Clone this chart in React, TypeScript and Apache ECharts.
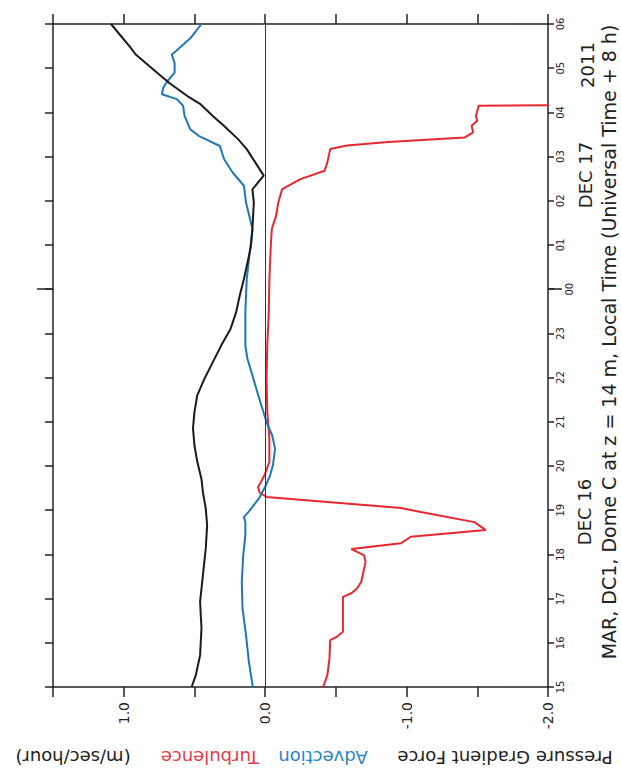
import React, { useEffect, useRef } from 'react';
import * as echarts from 'echarts';

const FONT = '"DejaVu Sans", "Liberation Sans", sans-serif';

// Time axis: local hours (15 = 15:00 Dec 16 ... 30 = 06:00 Dec 17)
const pgfTime = [15.0, 15.27, 15.72, 16.33, 16.93, 17.53, 18.13, 18.66, 19.04, 19.41, 19.7, 20.1, 20.47, 20.85, 21.22, 21.6, 21.97, 22.35, 22.73, 23.1, 23.48, 23.85, 24.23, 24.6, 24.98, 25.36, 25.96, 26.26, 26.57, 26.87, 27.17, 27.39, 27.69, 27.92, 28.18, 28.37, 28.67, 29.05, 29.31, 29.5, 30.0];
const pgfValue = [0.52, 0.49, 0.46, 0.45, 0.46, 0.44, 0.42, 0.41, 0.42, 0.44, 0.45, 0.48, 0.5, 0.51, 0.5, 0.48, 0.43, 0.37, 0.31, 0.245, 0.205, 0.18, 0.15, 0.125, 0.1, 0.09, 0.08, 0.09, 0.01, 0.07, 0.13, 0.19, 0.29, 0.37, 0.455, 0.55, 0.68, 0.82, 0.915, 0.96, 1.09];

const advTime = [15.0, 15.57, 16.17, 16.78, 17.38, 17.98, 18.43, 18.73, 18.85, 18.95, 19.26, 19.56, 19.79, 20.02, 20.39, 20.69, 20.99, 21.3, 21.67, 22.05, 22.42, 22.73, 23.48, 24.23, 24.8, 25.36, 25.96, 26.34, 26.64, 26.94, 27.24, 27.47, 27.62, 27.92, 28.15, 28.3, 28.41, 28.56, 28.71, 28.9, 29.12, 29.31, 29.39, 29.69, 30.0];
const advValue = [0.087, 0.115, 0.135, 0.16, 0.165, 0.155, 0.14, 0.14, 0.15, 0.12, 0.045, -0.005, -0.035, -0.055, -0.07, -0.05, -0.01, 0.02, 0.055, 0.09, 0.125, 0.14, 0.14, 0.13, 0.11, 0.09, 0.135, 0.15, 0.23, 0.29, 0.32, 0.47, 0.53, 0.57, 0.58, 0.625, 0.73, 0.72, 0.69, 0.64, 0.64, 0.66, 0.63, 0.525, 0.45];

const turbTime = [15.0, 15.27, 15.65, 16.06, 16.14, 16.25, 17.04, 17.12, 17.23, 17.38, 17.68, 17.83, 17.98, 18.12, 18.25, 18.4, 18.55, 18.73, 18.96, 19.05, 19.3, 19.4, 19.52, 19.79, 20.09, 20.62, 21.22, 22.0, 22.73, 23.5, 24.23, 24.98, 25.36, 25.66, 25.96, 26.26, 26.3, 26.49, 26.68, 26.87, 27.17, 27.25, 27.33, 27.43, 27.55, 27.7, 27.81, 27.92, 28.03, 28.15, 28.17];
const turbValue = [-0.41, -0.44, -0.455, -0.46, -0.51, -0.55, -0.55, -0.61, -0.65, -0.68, -0.7, -0.71, -0.7, -0.61, -0.96, -1.03, -1.56, -1.48, -1.1, -0.96, -0.01, 0.04, 0.05, 0.005, -0.03, -0.03, -0.015, -0.01, -0.015, -0.026, -0.03, -0.04, -0.047, -0.077, -0.093, -0.12, -0.14, -0.25, -0.42, -0.44, -0.46, -0.58, -0.87, -1.41, -1.47, -1.46, -1.5, -1.49, -1.5, -1.51, -2.3];

const valueMin = -2;
const valueMax = 1.5;
const hourMin = 15;
const hourMax = 30;
const midnightHour = [24];

const seriesNames = ['Pressure Gradient Force', 'Advection', 'Turbulence'];
const unitsLabel = '(m/sec/hour)';
const dayLabels = ['DEC 16', 'DEC 17', '2011'];
const titleText = 'MAR, DC1, Dome C at z = 14 m, Local Time (Universal Time + 8 h)';

const BLACK = '#1a1a1a';
const BLUE = '#1f78b4';
const RED = '#e8282f';

const zip = (t: number[], v: number[]) => t.map((x, i) => [v[i], x]);
const hourLabel = (v: number) => String(Math.round(v) % 24).padStart(2, '0');

export default function App() {
  const ref = useRef<HTMLDivElement>(null);
  useEffect(() => {
    const chart = echarts.init(ref.current!, null, { renderer: 'svg' });
    const axisLine = { show: true, onZero: false, lineStyle: { color: '#222', width: 1.5 } };
    const tickStyle = { color: '#222', width: 1.5 };
    const hourLabelStyle = { rotate: 90, fontSize: 10, fontFamily: FONT, color: '#222' };
    const option: any = {
      animation: false,
      backgroundColor: '#fff',
      grid: { left: 53, top: 24, width: 495, height: 663, containLabel: false, outerBoundsMode: 'none' },
      xAxis: [
        {
          type: 'value', position: 'bottom', inverse: true, min: valueMin, max: valueMax, interval: 0.5,
          axisLine, splitLine: { show: false },
          axisTick: { show: true, inside: false, length: 10, lineStyle: tickStyle },
          axisLabel: {
            rotate: 90, margin: 15, fontSize: 14, fontFamily: FONT, color: '#222',
            formatter: (v: number) => (Number.isInteger(v) && v < valueMax ? v.toFixed(1) : ''),
          },
        },
        {
          type: 'value', position: 'top', inverse: true, min: valueMin, max: valueMax, interval: 0.5,
          axisLine, splitLine: { show: false },
          axisTick: { show: true, inside: false, length: 10, lineStyle: tickStyle },
          axisLabel: { show: false },
        },
      ],
      yAxis: [
        {
          type: 'value', position: 'right', min: hourMin, max: hourMax, interval: 1,
          axisLine, splitLine: { show: false },
          axisTick: { show: true, inside: false, length: 6, lineStyle: tickStyle },
          axisLabel: {
            ...hourLabelStyle, margin: 7,
            formatter: (v: number) => (midnightHour.includes(Math.round(v)) ? '' : hourLabel(v)),
          },
        },
        {
          type: 'value', position: 'left', min: hourMin, max: hourMax, interval: 1,
          axisLine, splitLine: { show: false },
          axisTick: { show: true, inside: false, length: 8, lineStyle: tickStyle },
          axisLabel: { show: false },
        },
        {
          type: 'value', position: 'left', min: hourMin, max: hourMax, interval: 1,
          axisLine: { show: false, onZero: false }, splitLine: { show: false },
          axisTick: { show: true, inside: false, length: 16, lineStyle: tickStyle, customValues: midnightHour },
          axisLabel: { show: false },
        },
        {
          type: 'value', position: 'right', min: hourMin, max: hourMax, interval: 1,
          axisLine: { show: false, onZero: false }, splitLine: { show: false },
          axisTick: { show: true, inside: false, length: 14, lineStyle: tickStyle, customValues: midnightHour },
          axisLabel: { ...hourLabelStyle, margin: 16, customValues: midnightHour, formatter: hourLabel },
        },
      ],
      series: [
        {
          name: seriesNames[2], type: 'line', xAxisIndex: 0, yAxisIndex: 0,
          data: zip(turbTime, turbValue), showSymbol: false, symbol: 'none', clip: true,
          lineStyle: { color: RED, width: 2 },
          markLine: {
            silent: true, symbol: ['none', 'none'], label: { show: false },
            lineStyle: { color: '#333', width: 1, type: 'solid' },
            data: [{ xAxis: 0 }],
          },
        },
        {
          name: seriesNames[1], type: 'line', xAxisIndex: 0, yAxisIndex: 0,
          data: zip(advTime, advValue), showSymbol: false, symbol: 'none', clip: true,
          lineStyle: { color: BLUE, width: 2 },
        },
        {
          name: seriesNames[0], type: 'line', xAxisIndex: 0, yAxisIndex: 0,
          data: zip(pgfTime, pgfValue), showSymbol: false, symbol: 'none', clip: true,
          lineStyle: { color: BLACK, width: 2 },
        },
      ],
      graphic: [
        { type: 'text', x: 584, y: 512, rotation: Math.PI / 2, style: { text: dayLabels[0], x: 0, y: 0, align: 'center', verticalAlign: 'middle', fontSize: 18, fontFamily: FONT, fill: '#222' } },
        { type: 'text', x: 585, y: 175, rotation: Math.PI / 2, style: { text: dayLabels[1], x: 0, y: 0, align: 'center', verticalAlign: 'middle', fontSize: 18, fontFamily: FONT, fill: '#222' } },
        { type: 'text', x: 587, y: 65, rotation: Math.PI / 2, style: { text: dayLabels[2], x: 0, y: 0, align: 'center', verticalAlign: 'middle', fontSize: 18, fontFamily: FONT, fill: '#222' } },
        { type: 'text', x: 609, y: 342, rotation: Math.PI / 2, style: { text: titleText, x: 0, y: 0, align: 'center', verticalAlign: 'middle', fontSize: 19, fontFamily: FONT, fill: '#222' } },
        { type: 'text', x: 505, y: 757, rotation: Math.PI, style: { text: seriesNames[0], x: 0, y: 0, align: 'center', verticalAlign: 'middle', fontSize: 18, fontFamily: FONT, fill: '#222' } },
        { type: 'text', x: 323, y: 757, rotation: Math.PI, style: { text: seriesNames[1], x: 0, y: 0, align: 'center', verticalAlign: 'middle', fontSize: 18, fontFamily: FONT, fill: '#2b86c5' } },
        { type: 'text', x: 210, y: 757, rotation: Math.PI, style: { text: seriesNames[2], x: 0, y: 0, align: 'center', verticalAlign: 'middle', fontSize: 18, fontFamily: FONT, fill: '#ea3a44' } },
        { type: 'text', x: 73, y: 757, rotation: Math.PI, style: { text: unitsLabel, x: 0, y: 0, align: 'center', verticalAlign: 'middle', fontSize: 18, fontFamily: FONT, fill: '#222' } },
      ],
    };
    chart.setOption(option);
    return () => chart.dispose();
  }, []);
  return <div ref={ref} style={{ position: 'absolute', left: 0, top: 0, width: 621, height: 772, background: '#fff' }} />;
}
